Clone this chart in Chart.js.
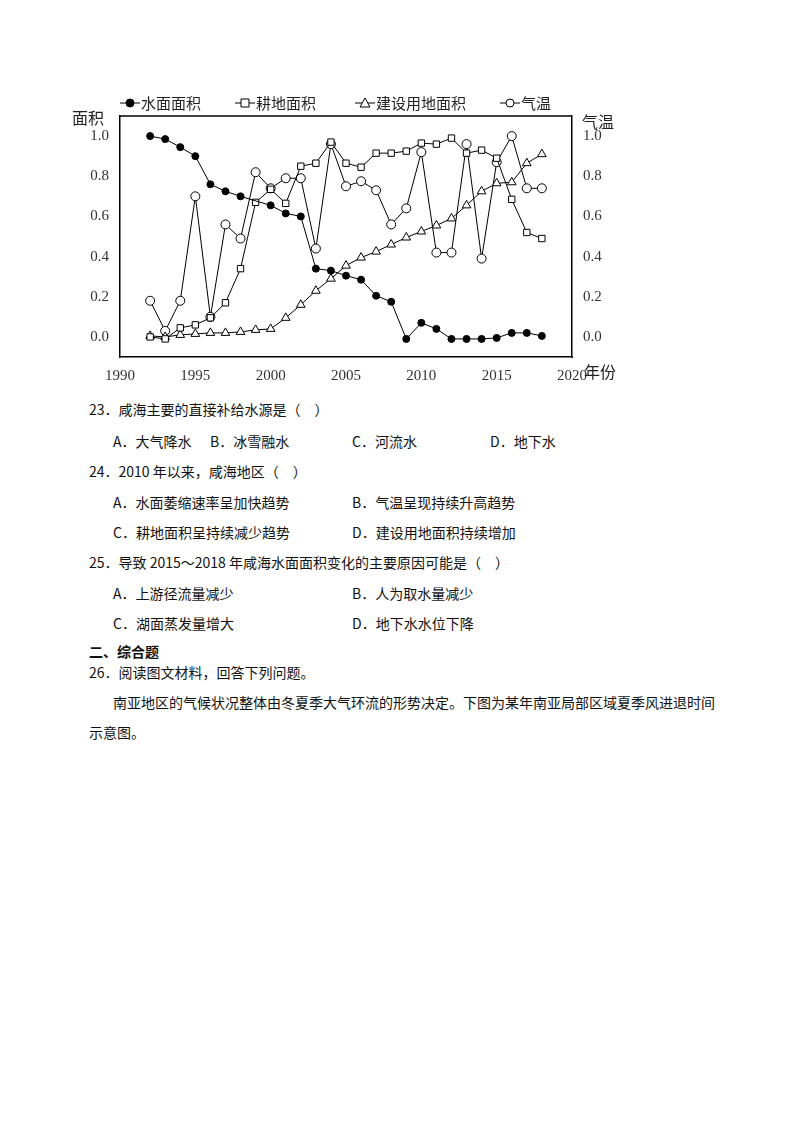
<!DOCTYPE html>
<html><head><meta charset="utf-8">
<script src="https://cdn.jsdelivr.net/npm/chart.js@4/dist/chart.umd.min.js"></script>
<style>
body{margin:0;width:800px;height:1132px;background:#fff;font-family:"Noto Sans CJK SC","Liberation Serif",serif;color:#111;position:relative}
#wrap{position:absolute;left:62px;top:88px;width:570px;height:300px}
.t{position:absolute;font-size:14px;white-space:nowrap}
</style></head><body>
<div id="wrap"><canvas id="c" width="570" height="300"></canvas></div>
<div class="t" style="left:89px;top:399px">23．咸海主要的直接补给水源是（　）</div>
<div class="t" style="left:113px;top:431px">A．大气降水</div>
<div class="t" style="left:210px;top:431px">B．冰雪融水</div>
<div class="t" style="left:352px;top:431px">C．河流水</div>
<div class="t" style="left:490px;top:431px">D．地下水</div>
<div class="t" style="left:89px;top:461px">24．2010 年以来，咸海地区（　）</div>
<div class="t" style="left:113px;top:492px">A．水面萎缩速率呈加快趋势</div>
<div class="t" style="left:352px;top:492px">B．气温呈现持续升高趋势</div>
<div class="t" style="left:113px;top:522px">C．耕地面积呈持续减少趋势</div>
<div class="t" style="left:352px;top:522px">D．建设用地面积持续增加</div>
<div class="t" style="left:89px;top:552px">25．导致 2015～2018 年咸海水面面积变化的主要原因可能是（　）</div>
<div class="t" style="left:113px;top:583px">A．上游径流量减少</div>
<div class="t" style="left:352px;top:583px">B．人为取水量减少</div>
<div class="t" style="left:113px;top:613px">C．湖面蒸发量增大</div>
<div class="t" style="left:352px;top:613px">D．地下水水位下降</div>
<div class="t" style="left:89px;top:641px;font-weight:bold">二、综合题</div>
<div class="t" style="left:89px;top:662px">26．阅读图文材料，回答下列问题。</div>
<div class="t" style="left:113px;top:692px">南亚地区的气候状况整体由冬夏季大气环流的形势决定。下图为某年南亚局部区域夏季风进退时间</div>
<div class="t" style="left:89px;top:722px">示意图。</div>
<script>
const years=[1992,1993,1994,1995,1996,1997,1998,1999,2000,2001,2002,2003,2004,2005,2006,2007,2008,2009,2010,2011,2012,2013,2014,2015,2016,2017,2018];
const water=[1.0,0.985,0.945,0.9,0.76,0.725,0.70,null,0.655,0.615,0.60,0.34,0.33,0.305,0.285,0.205,0.175,-0.01,0.07,0.04,-0.01,-0.01,-0.01,-0.005,0.02,0.02,0.005];
const farmland=[0,-0.01,0.045,0.06,0.095,0.17,0.34,0.67,0.735,0.665,0.85,0.865,0.97,0.865,0.845,0.915,0.915,0.925,0.965,0.96,0.99,0.915,0.93,0.89,0.685,0.52,0.49];
const builtup=[0.005,0,0.01,0.015,0.02,0.02,0.025,0.035,0.04,0.095,0.16,0.23,0.29,0.355,0.395,0.425,0.46,0.495,0.525,0.555,0.59,0.655,0.725,0.765,0.77,0.865,0.91];
const temperature=[0.18,0.03,0.18,0.70,0.10,0.56,0.49,0.82,0.74,0.79,0.79,0.44,0.96,0.75,0.775,0.73,0.56,0.64,0.92,0.42,0.42,0.96,0.39,0.87,1.0,0.74,0.74];
const names=['水面面积','耕地面积','建设用地面积','气温'];
const mk=(arr)=>arr.map((v,i)=>({x:years[i],y:v}));
const base={borderColor:'#000',borderWidth:1,pointRadius:3.5,pointBorderWidth:1,pointBorderColor:'#000',spanGaps:true,tension:0};
const legendPlugin={id:'lg',afterDraw(ch){const c=ch.ctx,a=ch.chartArea;c.save();c.strokeStyle='#000';c.lineWidth=1.5;c.beginPath();c.moveTo(a.left,a.top);c.lineTo(a.right,a.top);c.stroke();
 c.font='15px "Noto Sans CJK SC"';c.fillStyle='#222';c.lineWidth=1;
 const items=[[58,'circle',true,names[0]],[173,'rect',false,names[1]],[293,'triangle',false,names[2]],[438,'circle',false,names[3]]];
 const y=15;items.forEach(([x,s,f,n])=>{c.beginPath();c.moveTo(x,y);c.lineTo(x+20,y);c.stroke();const px=x+10;c.beginPath();
 if(s==='circle')c.arc(px,y,4,0,7);else if(s==='rect')c.rect(px-4,y-4,8,8);else{c.moveTo(px,y-5);c.lineTo(px+5,y+4);c.lineTo(px-5,y+4);c.closePath();}
 c.fillStyle=f?'#000':'#fff';c.fill();c.stroke();c.fillStyle='#222';c.textBaseline='middle';c.fillText(n,x+21,y);});
 c.font='16px "Noto Sans CJK SC"';c.fillText('面积',10,30);c.fillText('气温',a.right+10,34);c.fillText('年份',a.right+12,284);c.restore();}};
const tf={family:'Liberation Serif',size:15};
new Chart(document.getElementById('c'),{type:'line',
data:{datasets:[
 {...base,label:names[0],data:mk(water),pointStyle:'circle',pointBackgroundColor:'#000',yAxisID:'y'},
 {...base,label:names[1],data:mk(farmland),pointStyle:'rect',pointRadius:4.5,pointBackgroundColor:'#fff',yAxisID:'y'},
 {...base,label:names[2],data:mk(builtup),pointStyle:'triangle',pointRadius:5,pointBackgroundColor:'#fff',yAxisID:'y'},
 {...base,label:names[3],data:mk(temperature),pointStyle:'circle',pointRadius:4.5,pointBackgroundColor:'#fff',yAxisID:'y1'}]},
options:{responsive:false,animation:false,layout:{padding:{left:0,right:0,top:28,bottom:0}},
 plugins:{legend:{display:false},tooltip:{enabled:false}},
 scales:{
  x:{type:'linear',min:1990,max:2020,afterFit:s=>{s.height=31},border:{color:'#000',width:1.5},grid:{display:false},
     ticks:{stepSize:5,color:'#333',font:tf,padding:2,maxRotation:0,callback:v=>v}},
  y:{min:-0.1,max:1.1,afterFit:s=>{s.width=58},border:{color:'#000',width:1.5},grid:{display:false},afterBuildTicks:a=>{a.ticks=[0,0.2,0.4,0.6,0.8,1.0].map(v=>({value:v}))},
     ticks:{color:'#333',font:tf,callback:v=>v.toFixed(1)}},
  y1:{position:'right',min:-0.1,max:1.1,afterFit:s=>{s.width=60},border:{color:'#000',width:1.5},grid:{display:false},afterBuildTicks:a=>{a.ticks=[0,0.2,0.4,0.6,0.8,1.0].map(v=>({value:v}))},
     ticks:{color:'#333',font:tf,callback:v=>v.toFixed(1)}}
 }},plugins:[legendPlugin]});
</script></body></html>
